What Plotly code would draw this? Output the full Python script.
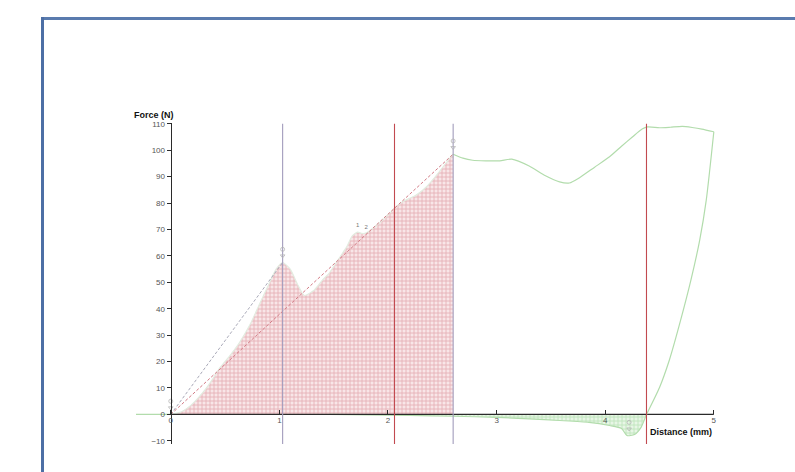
import plotly.graph_objects as go

# Loading path of the force–distance test (distance in mm, force in N)
load_dist = [-0.32, 0.0, 0.1, 0.2, 0.3, 0.38, 0.45, 0.55, 0.63, 0.73, 0.82, 0.9, 0.97,
             1.03, 1.1, 1.17, 1.23, 1.32, 1.4, 1.46, 1.54, 1.62, 1.67, 1.72, 1.76, 1.8,
             1.9, 2.0, 2.06, 2.13, 2.2, 2.26, 2.35, 2.45, 2.55, 2.6]
load_force = [0.0, 0.0, 1.0, 4.0, 8.5, 13.0, 17.5, 22.5, 27.0, 34.0, 42.0, 49.0, 55.0,
              57.5, 55.0, 49.0, 45.0, 47.0, 51.0, 53.5, 58.5, 63.4, 67.5, 69.0, 68.5, 68.7,
              71.7, 75.5, 78.0, 80.4, 81.8, 83.0, 86.0, 90.7, 96.0, 98.5]

# Continuation after the break point, up to the maximum stroke
post_dist = [2.6, 2.69, 2.78, 2.9, 3.03, 3.14, 3.3, 3.45, 3.58, 3.67, 3.76, 3.9, 4.04,
             4.15, 4.25, 4.34, 4.39, 4.5, 4.6, 4.71, 4.8, 4.89, 5.0]
post_force = [98.5, 97.0, 96.2, 96.0, 96.0, 96.6, 94.0, 90.3, 88.0, 87.6, 89.5, 93.5, 97.5,
              101.5, 105.0, 108.0, 108.8, 108.5, 108.7, 109.0, 108.6, 108.0, 107.0]

# Withdrawal path back towards the start
ret_dist = [5.0, 4.93, 4.87, 4.79, 4.69, 4.59, 4.5, 4.38, 4.33, 4.27, 4.2, 4.15,
            4.04, 3.85, 3.58, 3.3, 3.0, 2.6, 2.2, 1.8, 1.46]
ret_force = [107.0, 81.0, 66.0, 51.0, 35.0, 20.5, 10.2, 0.0, -4.9, -7.6, -8.0, -5.3,
             -4.2, -3.0, -2.3, -1.7, -1.1, -0.7, -0.4, -0.2, 0.0]

# Event markers on the distance axis
event_labels = ["2", "5", "3", "4"]
event_dist = [1.03, 2.06, 2.6, 4.38]
event_colors = ["#a29cbc", "#c24a50", "#a29cbc", "#c24a50"]

# Anchor points for the dashed secant lines
peak_dist, peak_force = 1.03, 57.5
break_dist, break_force = 2.6, 98.5

y_ticks = list(range(-10, 111, 10))
x_ticks = [0, 1, 2, 3, 4, 5]

X_RANGE = [-0.32, 5.02]
Y_RANGE = [-11.2, 110.3]
W, H = 795, 472
L, R, T, B = 136, 79, 123, 28
PW, PH = W - L - R, H - T - B

CURVE = "#b2dcac"
FONT = "Liberation Sans, Arial, sans-serif"
SMOOTH = dict(shape="spline", smoothing=0.6)

fig = go.Figure()

# Work area under the curve up to the break point
fill_n = load_dist.index(0.0)
fig.add_trace(go.Scatter(
    x=load_dist[fill_n:], y=load_force[fill_n:], mode="lines",
    line=dict(color="#e2ece0", width=1.2, **SMOOTH), fill="tozeroy",
    fillcolor="rgba(0,0,0,0)",
    fillpattern=dict(shape="+", size=4, solidity=0.4,
                     fgcolor="#d47a85", bgcolor="#f8e6e8"),
    hoverinfo="skip", showlegend=False))

# Negative-force area during withdrawal
neg_n = ret_force.index(0.0)
fig.add_trace(go.Scatter(
    x=ret_dist[neg_n:], y=ret_force[neg_n:], mode="lines",
    line=dict(color=CURVE, width=1.2, **SMOOTH), fill="tozeroy",
    fillcolor="rgba(0,0,0,0)",
    fillpattern=dict(shape="+", size=4, solidity=0.4,
                     fgcolor="#96d491", bgcolor="#e8f6e6"),
    hoverinfo="skip", showlegend=False))

# Dashed secants from the origin
fig.add_trace(go.Scatter(x=[0, peak_dist], y=[0, peak_force], mode="lines",
                         line=dict(color="#a9a9b8", width=1, dash="3px,2px"),
                         hoverinfo="skip", showlegend=False))
fig.add_trace(go.Scatter(x=[0, break_dist], y=[0, break_force], mode="lines",
                         line=dict(color="#d27a84", width=1, dash="3px,2px"),
                         hoverinfo="skip", showlegend=False))

# Distance axis line at zero force
fig.add_trace(go.Scatter(x=[0, x_ticks[-1]], y=[0, 0], mode="lines",
                         line=dict(color="#2b2b2b", width=1.3),
                         hoverinfo="skip", showlegend=False))

# Full force curve: baseline, post-break section, withdrawal
fig.add_trace(go.Scatter(x=load_dist[:fill_n + 1], y=load_force[:fill_n + 1], mode="lines",
                         line=dict(color=CURVE, width=1.2),
                         hoverinfo="skip", showlegend=False))
fig.add_trace(go.Scatter(x=post_dist, y=post_force, mode="lines",
                         line=dict(color=CURVE, width=1.2, **SMOOTH),
                         hoverinfo="skip", showlegend=False))
fig.add_trace(go.Scatter(x=ret_dist[:neg_n + 1], y=ret_force[:neg_n + 1], mode="lines",
                         line=dict(color=CURVE, width=1.2, **SMOOTH),
                         hoverinfo="skip", showlegend=False))

# Event marker lines with their labels
for lab, xd, col in zip(event_labels, event_dist, event_colors):
    fig.add_trace(go.Scatter(x=[xd, xd], y=[Y_RANGE[0], 110], mode="lines",
                             line=dict(color=col, width=1.1),
                             hoverinfo="skip", showlegend=False))
    fig.add_annotation(x=xd, y=110.5, xref="x", yref="y", text="<b>" + lab + "</b>",
                       showarrow=False, yanchor="bottom", yshift=2,
                       font=dict(family=FONT, size=9, color="#5cb85c"))

# Small point symbols at the detected points
sym_x = [0.0, peak_dist, break_dist, 4.22]
sym_y = [0.0, peak_force, break_force, -8.0]
fig.add_trace(go.Scatter(x=sym_x, y=[v + 2.5 for v in sym_y], mode="markers",
                         marker=dict(symbol="triangle-down-open", size=4, color="#b5b5b5",
                                     line=dict(width=0.8)),
                         hoverinfo="skip", showlegend=False))
fig.add_trace(go.Scatter(x=sym_x, y=[v + 5.0 for v in sym_y], mode="markers",
                         marker=dict(symbol="circle-open", size=4, color="#b5b5b5",
                                     line=dict(width=0.8)),
                         hoverinfo="skip", showlegend=False))
fig.add_trace(go.Scatter(x=[1.72, 1.8], y=[70.5, 69.5], mode="text", text=["1", "2"],
                         textposition="top center",
                         textfont=dict(family=FONT, size=6, color="#777777"),
                         hoverinfo="skip", showlegend=False))

# Axis titles
fig.add_annotation(x=0, y=110.3, xref="x", yref="y", text="<b>Force (N)</b>",
                   showarrow=False, xanchor="right", yanchor="bottom", xshift=5, yshift=1,
                   font=dict(family=FONT, size=9, color="#111111"))
fig.add_annotation(x=x_ticks[-1], y=0, xref="x", yref="y", text="<b>Distance (mm)</b>",
                   showarrow=False, xanchor="right", yanchor="top", yshift=-11,
                   font=dict(family=FONT, size=9, color="#111111"))

# Frame around the chart region
def px_x(p):
    return (p - L) / PW

def px_y(p):
    return (H - B - p) / PH

fig.add_shape(type="line", xref="paper", yref="paper",
              x0=px_x(41), x1=px_x(W + 5), y0=px_y(18.5), y1=px_y(18.5),
              line=dict(color="#5a7bae", width=3))
fig.add_shape(type="line", xref="paper", yref="paper",
              x0=px_x(42.5), x1=px_x(42.5), y0=px_y(17), y1=px_y(H + 5),
              line=dict(color="#4d6fa5", width=3))

x_pos = (0 - Y_RANGE[0]) / (Y_RANGE[1] - Y_RANGE[0])
y_pos = (0 - X_RANGE[0]) / (X_RANGE[1] - X_RANGE[0])

fig.update_layout(
    width=W, height=H,
    margin=dict(l=L, r=R, t=T, b=B),
    paper_bgcolor="white", plot_bgcolor="white",
    showlegend=False,
    xaxis=dict(range=X_RANGE, anchor="free", position=x_pos, showgrid=False,
               zeroline=False, showline=False, tickmode="array", tickvals=x_ticks,
               ticktext=[str(v) for v in x_ticks], ticks="inside", ticklen=4,
               tickcolor="#2b2b2b", tickwidth=1,
               tickfont=dict(family=FONT, size=8, color="#555555")),
    yaxis=dict(range=Y_RANGE, anchor="free", position=y_pos, showgrid=False,
               zeroline=False, showline=True, linecolor="#2b2b2b", linewidth=1.3,
               tickmode="array", tickvals=y_ticks, ticks="outside", ticklen=4,
               tickcolor="#2b2b2b", tickwidth=1,
               tickfont=dict(family=FONT, size=8, color="#555555")),
)

fig.write_html("out.html")
